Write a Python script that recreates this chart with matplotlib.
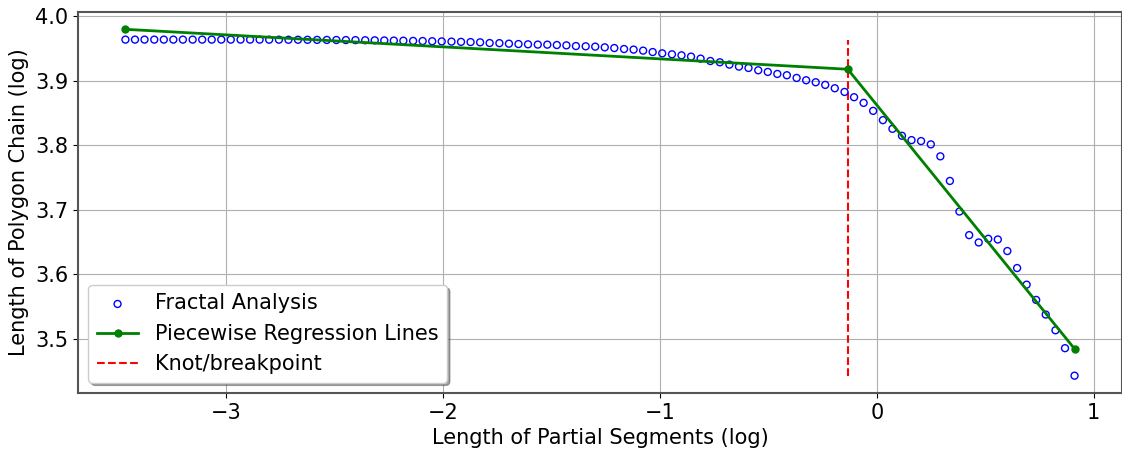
import matplotlib
matplotlib.use("Agg")
import matplotlib.pyplot as plt

# log of partial segment length (x) and log of polygon chain length (y)
seg_log = [
    -3.466, -3.422, -3.378, -3.333, -3.289, -3.245, -3.201, -3.156, -3.112, -3.068,
    -3.024, -2.980, -2.935, -2.891, -2.847, -2.803, -2.758, -2.714, -2.670, -2.626,
    -2.582, -2.537, -2.493, -2.449, -2.405, -2.360, -2.316, -2.272, -2.228, -2.184,
    -2.139, -2.095, -2.051, -2.007, -1.962, -1.918, -1.874, -1.830, -1.786, -1.741,
    -1.697, -1.653, -1.609, -1.564, -1.520, -1.476, -1.432, -1.388, -1.343, -1.299,
    -1.255, -1.211, -1.166, -1.122, -1.078, -1.034, -0.990, -0.945, -0.901, -0.857,
    -0.813, -0.768, -0.724, -0.680, -0.636, -0.592, -0.547, -0.503, -0.459, -0.415,
    -0.370, -0.326, -0.282, -0.238, -0.194, -0.149, -0.105, -0.061, -0.017, 0.028,
    0.072, 0.116, 0.160, 0.204, 0.249, 0.293, 0.337, 0.381, 0.426, 0.470,
    0.514, 0.558, 0.602, 0.647, 0.691, 0.735, 0.779, 0.824, 0.868, 0.912,
]
chain_log = [
    3.9640, 3.9640, 3.9640, 3.9640, 3.9640, 3.9640, 3.9640, 3.9640, 3.9640, 3.9640,
    3.9640, 3.9640, 3.9640, 3.9640, 3.9640, 3.9639, 3.9639, 3.9638, 3.9638, 3.9637,
    3.9636, 3.9635, 3.9634, 3.9633, 3.9632, 3.9630, 3.9629, 3.9627, 3.9625, 3.9623,
    3.9620, 3.9618, 3.9615, 3.9612, 3.9609, 3.9605, 3.9602, 3.9598, 3.9587, 3.9585,
    3.9577, 3.9571, 3.9567, 3.9563, 3.9562, 3.9556, 3.9551, 3.9540, 3.9536, 3.9531,
    3.9520, 3.9509, 3.9494, 3.9485, 3.9469, 3.9447, 3.9427, 3.9412, 3.9396, 3.9376,
    3.9345, 3.9308, 3.9288, 3.9252, 3.9221, 3.9200, 3.9164, 3.9138, 3.9107, 3.9087,
    3.9045, 3.9009, 3.8978, 3.8937, 3.8885, 3.8828, 3.8746, 3.8658, 3.8534, 3.8390,
    3.8255, 3.8147, 3.8080, 3.8065, 3.8014, 3.7828, 3.7446, 3.6971, 3.6605, 3.6491,
    3.6548, 3.6537, 3.6358, 3.6094, 3.5836, 3.5599, 3.5372, 3.5128, 3.4850, 3.4423,
]

# piecewise regression: start, breakpoint, end
fit_x = [-3.466, -0.134, 0.912]
fit_y = [3.980, 3.918, 3.484]
knot_x = -0.134


def main():
    fig = plt.figure(figsize=(11.22, 4.49), dpi=100)
    ax = fig.add_axes([0.0695, 0.1247, 0.9305, 0.8486])

    ax.scatter(seg_log, chain_log, s=25, facecolors='none', edgecolors='blue',
               linewidths=1, label='Fractal Analysis', zorder=3)
    ax.plot(fit_x, fit_y, '-o', color='green', lw=2, ms=5,
            label='Piecewise Regression Lines', zorder=4)
    ax.vlines(knot_x, min(chain_log), max(chain_log), colors='red',
              linestyles='--', lw=1.5, label='Knot/breakpoint', zorder=2)

    ax.set_xlabel('Length of Partial Segments (log)', fontsize=15)
    ax.set_ylabel('Length of Polygon Chain (log)', fontsize=15)
    ax.tick_params(labelsize=15)
    ax.grid(True, color='#b0b0b0', lw=0.8)
    for sp in ax.spines.values():
        sp.set_color('#555555')
        sp.set_linewidth(1.5)

    ax.legend(loc='lower left', fontsize=15, shadow=True, fancybox=True)

    fig.savefig('out.png', dpi=100)


if __name__ == "__main__":
    main()
